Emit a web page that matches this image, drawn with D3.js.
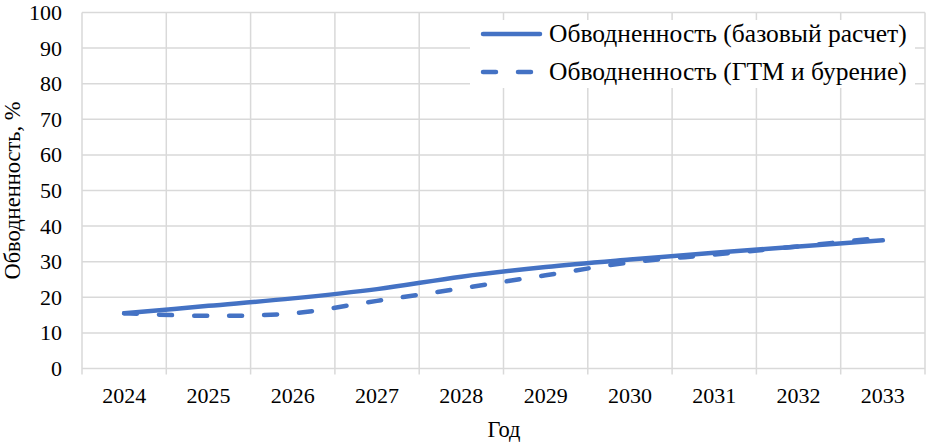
<!DOCTYPE html>
<html><head><meta charset="utf-8">
<script src="https://cdn.jsdelivr.net/npm/d3@7/dist/d3.min.js"></script>
<style>html,body{margin:0;padding:0;background:#fff;}svg{display:block;}text{font-family:"Liberation Serif","Times New Roman","DejaVu Serif",serif;fill:#000;}</style>
</head><body>
<svg id="c" width="931" height="442"></svg>
<script>
const years = ["2024","2025","2026","2027","2028","2029","2030","2031","2032","2033"];
const baseSeries = [15.5, 17.6, 19.7, 22.3, 25.8, 28.5, 30.6, 32.5, 34.3, 36.0];
const gtmSeries  = [15.5, 14.8, 15.5, 19.0, 22.5, 26.2, 29.8, 32.0, 34.3, 36.8];
const yTicks = [0,10,20,30,40,50,60,70,80,90,100];
const seriesNames = ["Обводненность (базовый расчет)", "Обводненность (ГТМ и бурение)"];
const xTitle = "Год", yTitle = "Обводненность, %";

const W=931,H=442, L=82, R=925, T=12.5, B=368.5;
const color="#4472C4", grid="#d9d9d9";
const FF="'Liberation Serif','Times New Roman',serif";
const svg=d3.select("#c");
const x=d3.scaleBand().domain(years).range([L,R]);
const y=d3.scaleLinear().domain([0,100]).range([B,T]);

svg.append("g").selectAll("line").data(yTicks).join("line")
  .attr("x1",L).attr("x2",R).attr("y1",d=>y(d)).attr("y2",d=>y(d))
  .attr("stroke",grid).attr("stroke-width",1.5);
const bounds=years.map(d=>x(d)).concat([R]);
svg.append("g").selectAll("line").data(bounds).join("line")
  .attr("x1",d=>d).attr("x2",d=>d).attr("y1",T).attr("y2",B+6)
  .attr("stroke",grid).attr("stroke-width",1.5);

const yAxis=d3.axisLeft(y).tickValues(yTicks).tickSize(0).tickPadding(20);
const gy=svg.append("g").attr("transform",`translate(${L},0)`).call(yAxis).attr("font-family",FF);
gy.select(".domain").remove();
gy.selectAll("text").style("font-size","22px").style("font-family",FF).attr("fill","#000");

const xAxis=d3.axisBottom(x).tickSize(0).tickPadding(19);
const gx=svg.append("g").attr("transform",`translate(0,${B})`).call(xAxis).attr("font-family",FF);
gx.select(".domain").remove();
gx.selectAll("text").style("font-size","22px").style("font-family",FF).attr("fill","#000");

svg.append("text").attr("x",504).attr("y",437).attr("text-anchor","middle").style("font-size","22.5px").style("font-family",FF).text(xTitle);
svg.append("text").attr("transform",`translate(20,${(T+B)/2}) rotate(-90)`).attr("text-anchor","middle").style("font-size","22.5px").style("font-family",FF).text(yTitle);

const line=d3.line().x((d,i)=>x(years[i])+x.bandwidth()/2).y(d=>y(d)).curve(d3.curveCatmullRom.alpha(0));
svg.append("path").datum(gtmSeries).attr("d",line).attr("fill","none").attr("stroke",color)
  .attr("stroke-width",4.5).attr("stroke-linecap","round").attr("stroke-dasharray","13,22");
svg.append("path").datum(baseSeries).attr("d",line).attr("fill","none").attr("stroke",color)
  .attr("stroke-width",4.5).attr("stroke-linecap","round");

const lg=svg.append("g");
lg.append("rect").attr("x",470).attr("y",20).attr("width",445).attr("height",68).attr("fill","#fff");
const rows=[{n:seriesNames[0],dash:null,yy:34},{n:seriesNames[1],dash:"13,22",yy:72}];
rows.forEach(r=>{
  lg.append("line").attr("x1",483).attr("x2",540).attr("y1",r.yy).attr("y2",r.yy)
    .attr("stroke",color).attr("stroke-width",4.5).attr("stroke-linecap","round")
    .attr("stroke-dasharray",r.dash);
  lg.append("text").attr("x",549).attr("y",r.yy).attr("dy","0.33em").style("font-size","25.5px").style("font-family",FF).text(r.n);
});
</script>
</body></html>
